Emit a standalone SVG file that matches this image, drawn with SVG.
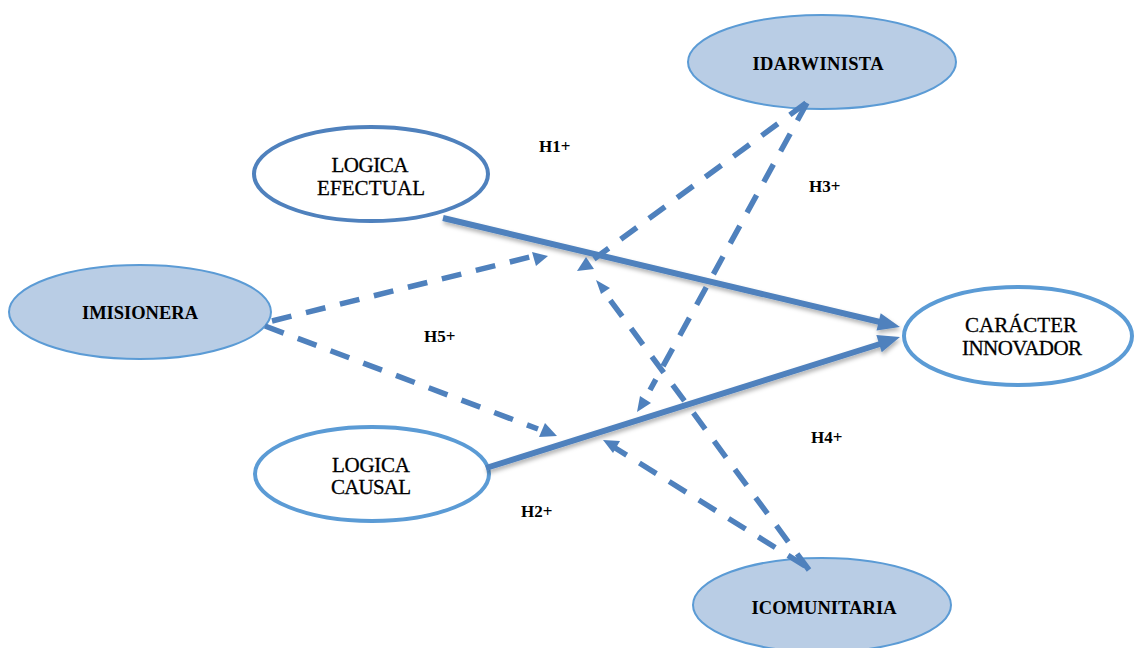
<svg xmlns="http://www.w3.org/2000/svg" width="1135" height="648" viewBox="0 0 1135 648">
  <style>
    .filled { fill: #b9cde5; stroke: #5b9bd5; stroke-width: 2; }
    .open { fill: #ffffff; stroke: #5b9bd5; stroke-width: 4; }
    .open-dark { fill: #ffffff; stroke: #4f81bd; stroke-width: 4; }
    .name { font-family: "Liberation Serif", "Times New Roman", serif; font-size: 21px; fill: #000; text-anchor: middle; stroke: #000; stroke-width: 0.3; }
    .bold { font-family: "Liberation Serif", "Times New Roman", serif; font-size: 18.5px; font-weight: bold; fill: #000; text-anchor: middle; }
    .hyp { font-family: "Liberation Serif", "Times New Roman", serif; font-size: 17px; font-weight: bold; fill: #000; }
    .solid { stroke: #4f81bd; stroke-width: 6; fill: none; }
    .dash { stroke: #4f81bd; stroke-width: 5.5; fill: none; stroke-dasharray: 20 15; }
    .head { fill: #4f81bd; }
  </style>
  <defs>
    <filter id="shade" x="-10%" y="-20%" width="120%" height="160%">
      <feDropShadow dx="1" dy="3" stdDeviation="2" flood-color="#000" flood-opacity="0.3"/>
    </filter>
  </defs>

  <rect width="1135" height="648" fill="#ffffff"/>

  <!-- nodes -->
  <g id="idarwinista">
    <ellipse class="filled" cx="822" cy="62" rx="134" ry="47"/>
    <text class="bold" x="818" y="70" textLength="131" lengthAdjust="spacing">IDARWINISTA</text>
  </g>
  <g id="logica-efectual">
    <ellipse class="open-dark" cx="371" cy="174" rx="117" ry="47"/>
    <text class="name" x="370" y="172" textLength="77" lengthAdjust="spacing">LOGICA</text>
    <text class="name" x="371" y="195" textLength="108" lengthAdjust="spacing">EFECTUAL</text>
  </g>
  <g id="imisionera">
    <ellipse class="filled" cx="140" cy="312" rx="131" ry="47"/>
    <text class="bold" x="140" y="319" textLength="116" lengthAdjust="spacing">IMISIONERA</text>
  </g>
  <g id="caracter-innovador">
    <ellipse class="open" cx="1018" cy="336" rx="114" ry="49"/>
    <text class="name" x="1021" y="332" textLength="112" lengthAdjust="spacing">CARÁCTER</text>
    <text class="name" x="1022" y="355" textLength="120" lengthAdjust="spacing">INNOVADOR</text>
  </g>
  <g id="logica-causal">
    <ellipse class="open" cx="372" cy="474" rx="117" ry="47"/>
    <text class="name" x="371" y="472" textLength="78" lengthAdjust="spacing">LOGICA</text>
    <text class="name" x="371" y="494" textLength="80" lengthAdjust="spacing">CAUSAL</text>
  </g>
  <g id="icomunitaria">
    <ellipse class="filled" cx="822" cy="605" rx="129" ry="47"/>
    <text class="bold" x="824" y="614" textLength="145" lengthAdjust="spacing">ICOMUNITARIA</text>
  </g>

  <!-- connectors -->
  <g id="connectors">
    <!-- direct effects on innovative character -->
    <g filter="url(#shade)">
      <line class="solid" x1="443" y1="218" x2="880" y2="322"/>
      <polygon class="head" points="900,327 876.5,330.6 880.7,313.2"/>
      <line class="solid" x1="486" y1="468" x2="880" y2="344"/>
      <polygon class="head" points="900,337 881.7,352.2 876.3,335"/>
    </g>

    <!-- moderating paths -->
    <line class="dash" x1="272" y1="321" x2="530" y2="257"/>
    <polygon class="head" points="532,252 548,256 536,266"/>

    <line class="dash" x1="265" y1="326" x2="538" y2="429"/>
    <polygon class="head" points="545,423 557,436 539,437"/>

    <line class="dash" x1="806" y1="103" x2="594" y2="259"/>
    <polygon class="head" points="586,257 577,271 594,269"/>

    <line class="dash" x1="807" y1="103" x2="650" y2="390"/>
    <polygon class="head" points="640,396 651,403 637,412"/>

    <line class="dash" x1="809" y1="570" x2="605" y2="293"/>
    <polygon class="head" points="596,280 610,288 601,294"/>

    <line class="dash" x1="805" y1="566" x2="612" y2="446"/>
    <polygon class="head" points="603,440 620,441 613,453"/>
  </g>

  <!-- hypothesis labels -->
  <g id="labels">
    <text class="hyp" x="539" y="152">H1+</text>
    <text class="hyp" x="809" y="192">H3+</text>
    <text class="hyp" x="424" y="342">H5+</text>
    <text class="hyp" x="521" y="517">H2+</text>
    <text class="hyp" x="811" y="443">H4+</text>
  </g>
</svg>
